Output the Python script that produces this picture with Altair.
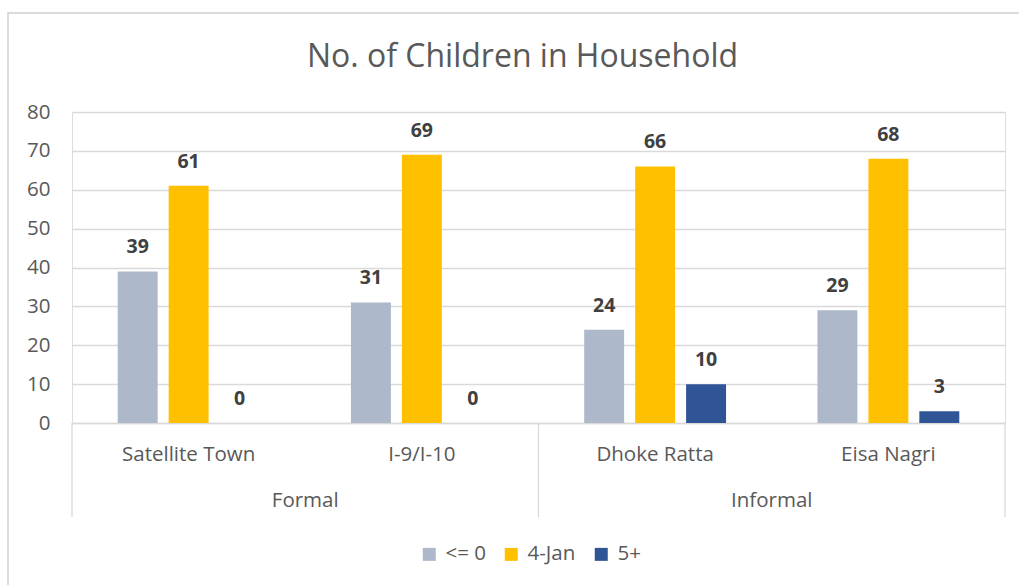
import altair as alt
import pandas as pd

sites = ["Satellite Town", "I-9/I-10", "Dhoke Ratta", "Eisa Nagri"]
groups = ["Formal", "Formal", "Informal", "Informal"]
series_names = ["<= 0", "4-Jan", "5+"]
le0 = [39, 31, 24, 29]
jan4 = [61, 69, 66, 68]
five_plus = [0, 0, 10, 3]
colors = ["#ADB9CA", "#FFC000", "#2F5597"]
title_text = "No. of Children in Household"

rows = []
for i, s in enumerate(sites):
    for name, vals in zip(series_names, [le0, jan4, five_plus]):
        rows.append({"site": s, "group": groups[i], "series": name, "value": vals[i]})
df = pd.DataFrame(rows)

W, H = 933, 311
FONT = "Open Sans"
GREY = "#595959"
LINE = "#D9D9D9"
FS = 20.5

xscale = alt.Scale(domain=sites, paddingInner=0, paddingOuter=0)
oscale = alt.Scale(domain=series_names, paddingInner=0.2157, paddingOuter=0.897)
yscale = alt.Scale(domain=[0, 80], nice=False)

xaxis = alt.Axis(labelAngle=0, labelFontSize=FS, labelColor=GREY, labelFont=FONT,
                 labelPadding=21, ticks=False, domainColor=LINE, domainWidth=1.3,
                 grid=False, title=None)
yaxis = alt.Axis(values=list(range(0, 81, 10)), labelFontSize=FS, labelColor=GREY,
                 labelFont=FONT, labelPadding=22, ticks=False, domain=False,
                 gridColor=LINE, gridWidth=1.3, title=None, labelOverlap=False)

X = lambda **kw: alt.X("site:N", scale=xscale, sort=sites, axis=xaxis, title=None, **kw)

base = alt.Chart(df)

bars = base.mark_bar().encode(
    x=X(),
    xOffset=alt.XOffset("series:N", scale=oscale, sort=series_names),
    y=alt.Y("value:Q", scale=yscale, axis=yaxis, title=None),
    color=alt.Color("series:N", sort=series_names,
                    scale=alt.Scale(domain=series_names, range=colors),
                    legend=alt.Legend(title=None, orient="none", direction="horizontal",
                                      legendX=347, legendY=432, symbolType="square",
                                      symbolSize=169, symbolStrokeWidth=0,
                                      labelFontSize=FS, labelColor=GREY, labelFont=FONT,
                                      columnPadding=15, labelOffset=6, symbolOpacity=1)),
)

labels = base.mark_text(baseline="alphabetic", dy=-18, fontSize=19.5, fontWeight="bold",
                        color="#404040", font=FONT).encode(
    x=X(),
    xOffset=alt.XOffset("series:N", scale=oscale, sort=series_names),
    y=alt.Y("value:Q", scale=yscale, axis=yaxis, title=None),
    text=alt.Text("value:Q"),
)

sep_df = pd.DataFrame({"site": ["Satellite Town", "Dhoke Ratta"]})
end_df = pd.DataFrame({"site": ["Eisa Nagri"]})
seps = alt.Chart(sep_df).mark_rule(color=LINE, strokeWidth=1.3).encode(
    x=X(bandPosition=0),
    y=alt.value(H), y2=alt.value(H + 94),
)
endsep = alt.Chart(end_df).mark_rule(color=LINE, strokeWidth=1.3).encode(
    x=X(bandPosition=1),
    y=alt.value(H), y2=alt.value(H + 94),
)

grp_df = pd.DataFrame({"site": ["Satellite Town", "Dhoke Ratta"], "group": ["Formal", "Informal"]})
grp_text = alt.Chart(grp_df).mark_text(fontSize=FS, color=GREY, font=FONT, baseline="middle").encode(
    x=X(bandPosition=1),
    y=alt.value(H + 78),
    text="group:N",
)

title = alt.Chart(pd.DataFrame({"t": [title_text]})).mark_text(
    fontSize=32, color=GREY, font=FONT, baseline="middle", align="center").encode(
    x=alt.value(W / 2 - 16), y=alt.value(-55), text="t:N",
)

frame = alt.Chart(pd.DataFrame({"a": [0]})).mark_rect(
    fill="transparent", stroke="#D0D0D0", strokeWidth=1.5).encode(
    x=alt.value(-64), x2=alt.value(W + 60), y=alt.value(-99), y2=alt.value(H + 250),
)

chart = alt.layer(frame, bars, labels, seps, endsep, grp_text, title).properties(
    width=W, height=H,
    autosize=alt.AutoSizeParams(type="none"),
    padding={"left": 72, "top": 112, "right": 14, "bottom": 162},
).configure_view(stroke=None).configure(background="white")

chart.save("out.html", embed_options={"renderer": "svg", "actions": False})
